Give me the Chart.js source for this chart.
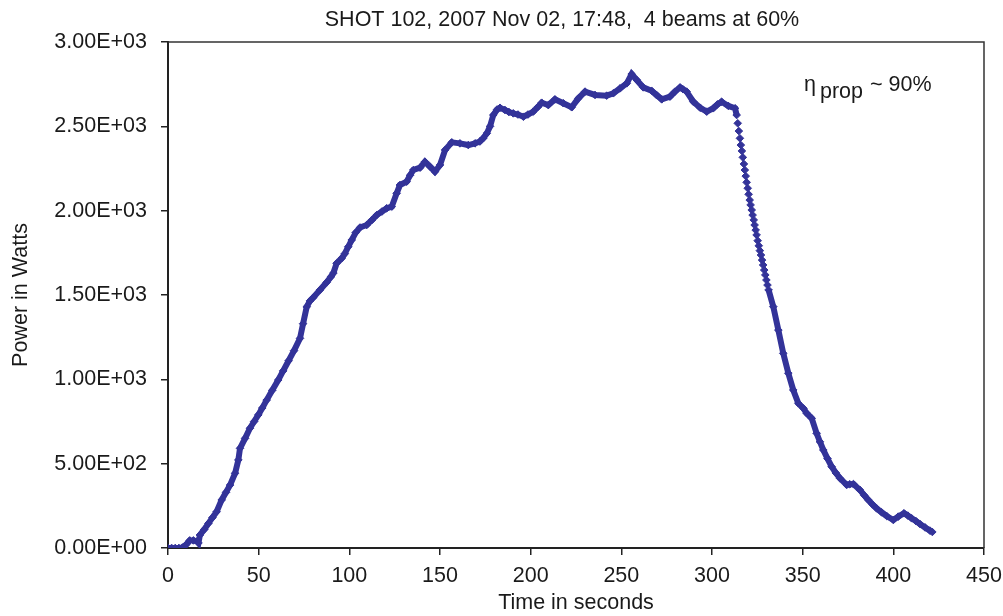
<!DOCTYPE html>
<html>
<head>
<meta charset="utf-8">
<script src="https://cdn.jsdelivr.net/npm/chart.js@4/dist/chart.umd.min.js"></script>
<style>
  html, body { margin: 0; padding: 0; background: #ffffff; }
  canvas { display: block; }
</style>
</head>
<body>
<canvas id="chart" width="1003" height="616"></canvas>
<script>
/* Shot 102 power trace */

// Time in seconds (denser where the trace falls off quickly)
const times = [
  0, 2, 4, 6, 8, 10, 12, 14, 16, 16.8, 17.6, 20, 22.3, 24.5, 26.8, 29.6, 32, 34.2, 37, 38.8,
  39.7, 42.5, 45.2, 47.5, 49.8, 52, 54.4, 57.5, 60.8, 63.5, 66.5, 69.5, 72.8, 74.5, 76.5, 78.3,
  80.1, 83.8, 87.5, 90, 91.2, 93, 95.8, 97.5, 99.4, 101.3, 103.5, 105.9, 109.6, 112.5, 115.1,
  118, 120.6, 123.4, 126.1, 127.9, 131.6, 133.5, 135.3, 139, 141.7, 144.5, 147.2, 150, 152.8,
  156.5, 161, 165.6, 169.3, 172, 173.9, 175.8, 177.6, 179.4, 181.5, 183.1, 185.8, 188, 190.4,
  193, 196, 198.5, 201.4, 204, 206.1, 209.7, 213.4, 218, 222.6, 226.3, 230, 235.5, 241.9,
  245.6, 249.3, 253, 255.7, 258.5, 262.1, 266.7, 269.5, 272.3, 276.8, 279.5, 282.4, 284, 286,
  289.7, 293.5, 297.1, 300.7, 303, 305.3, 309, 312.7,
  313.6, 314.2, 314.8, 315.4, 315.9, 316.5, 317.0, 317.6, 318.1, 318.6, 319.1, 319.7, 320.2,
  320.8, 321.3, 321.9, 322.4, 323.0, 323.5, 324.1, 324.6, 325.2, 325.8, 326.4, 327.0, 327.6,
  328.2, 328.8, 329.4, 330.0, 330.6, 331.2,
  333.8, 336.6, 339.3, 342.1, 344.8, 347.6, 350.4, 352.2, 355, 357.7, 359.5, 361.4, 363.7, 366,
  368.3, 370.6, 374.3, 376, 378, 381.6, 384, 386.2, 388.5, 390.8, 393.5, 396.3, 400, 402.7,
  405.9, 408, 410.1, 412.4, 414.7, 417.5, 420.2, 421.5
];

// Power in Watts
const power = [
  0, 0, 0, 0, 3, 20, 45, 45, 40, 30, 77, 110, 146, 180, 215, 285, 330, 373, 443, 522,
  591, 650, 710, 750, 789, 830, 877, 935, 996, 1050, 1110, 1170, 1243, 1330, 1430, 1465,
  1485, 1530, 1575, 1610, 1630, 1688, 1718, 1745, 1786, 1826, 1870, 1900, 1915, 1945, 1974,
  1995, 2014, 2024, 2103, 2152, 2172, 2210, 2241, 2255, 2290, 2261, 2231, 2271, 2360,
  2405, 2399, 2389, 2399, 2410, 2430, 2458, 2500, 2567, 2600, 2610, 2597, 2585, 2577,
  2570, 2557, 2570, 2587, 2615, 2640, 2626, 2660, 2637, 2613, 2666, 2706, 2686, 2682,
  2696, 2725, 2755, 2810, 2775, 2731, 2711, 2685, 2660, 2676, 2705, 2731, 2720, 2706,
  2646, 2610, 2587, 2607, 2630, 2646, 2621, 2607,
  2567, 2518, 2472, 2429, 2389, 2354, 2316, 2277, 2241, 2205, 2168, 2133, 2097,
  2063, 2034, 2004, 1974, 1945, 1915, 1885, 1856, 1822, 1792, 1763, 1737, 1707,
  1678, 1648, 1619, 1589, 1559, 1530,
  1431, 1292, 1154, 1036, 937, 858, 828, 799, 769, 680, 630, 581, 530, 482,
  445, 413, 374, 378, 379, 344, 312, 285, 258, 235, 212, 190, 166, 186,
  206, 192, 176, 160, 142, 122, 103, 95
];

// Axis ticks
const xTicks = [0, 50, 100, 150, 200, 250, 300, 350, 400, 450];
const yTicks = [0, 500, 1000, 1500, 2000, 2500, 3000];

const titleText = "SHOT 102, 2007 Nov 02, 17:48,  4 beams at 60%";
const LINE = "#333399";
const INK = "#1a1a1a";
const FONT = '"Liberation Sans", Arial, sans-serif';
const FS = 21.5;

// 3.00E+03 style labels
function sciLabel(v) {
  if (v === 0) return "0.00E+00";
  const exp = Math.floor(Math.log10(Math.abs(v)));
  const mant = (v / Math.pow(10, exp)).toFixed(2);
  const sign = exp < 0 ? "-" : "+";
  return `${mant}E${sign}${String(Math.abs(exp)).padStart(2, "0")}`;
}

// top/right frame, title and the eta annotation
const decorPlugin = {
  id: "decor",
  afterDraw(chart) {
    const { ctx, chartArea: { top, right, left, bottom } } = chart;
    ctx.save();
    ctx.strokeStyle = "#333";
    ctx.lineWidth = 1.5;
    ctx.beginPath();
    ctx.moveTo(left, top);
    ctx.lineTo(right, top);
    ctx.lineTo(right, bottom);
    ctx.stroke();

    ctx.fillStyle = INK;
    ctx.font = `${FS}px ${FONT}`;
    ctx.textAlign = "center";
    ctx.textBaseline = "middle";
    ctx.fillText(titleText, 562, 20);

    ctx.textAlign = "left";
    ctx.textBaseline = "alphabetic";
    ctx.fillText("\u03b7", 804, 91);
    ctx.fillText("prop", 820, 98);
    ctx.fillText("~ 90%", 870, 91);
    ctx.restore();
  },
};

const points = times.map((t, i) => ({ x: t, y: power[i] }));

new Chart(document.getElementById("chart").getContext("2d"), {
  type: "scatter",
  data: {
    datasets: [
      {
        data: points,
        showLine: true,
        borderColor: LINE,
        backgroundColor: LINE,
        borderWidth: 6,
        pointStyle: "rectRot",
        pointRadius: 3.8,
        pointBorderWidth: 1,
        pointBorderColor: LINE,
        pointBackgroundColor: LINE,
        tension: 0,
        // where samples are close together only the markers show
        segment: {
          borderColor: (c) => (c.p1.parsed.x - c.p0.parsed.x < 0.75 ? "rgba(0,0,0,0)" : LINE),
        },
      },
    ],
  },
  options: {
    responsive: false,
    animation: false,
    layout: { padding: { top: 42, right: 19, left: 0, bottom: 0 } },
    plugins: {
      legend: { display: false },
      tooltip: { enabled: false },
      title: { display: false },
    },
    scales: {
      x: {
        type: "linear",
        min: 0,
        max: 450,
        afterFit(s) {
          s.height = 68;
          s.paddingLeft = 0;
          s.paddingRight = 0;
        },
        afterBuildTicks(s) { s.ticks = xTicks.map((v) => ({ value: v })); },
        ticks: { color: INK, font: { family: FONT, size: FS }, padding: 8, maxRotation: 0 },
        grid: { drawOnChartArea: false, drawTicks: true, tickLength: 7, color: "#222", lineWidth: 1.5 },
        border: { display: true, color: "#222", width: 2 },
        title: {
          display: true,
          text: "Time in seconds",
          color: INK,
          font: { family: FONT, size: FS },
          padding: { top: 0, bottom: 0 },
        },
      },
      y: {
        min: 0,
        max: 3000,
        afterFit(s) {
          s.width = 168;
          s.paddingTop = 0;
          s.paddingBottom = 0;
        },
        afterBuildTicks(s) { s.ticks = yTicks.map((v) => ({ value: v })); },
        ticks: { color: INK, font: { family: FONT, size: FS }, padding: 14, callback: sciLabel },
        grid: { drawOnChartArea: false, drawTicks: true, tickLength: 7, color: "#222", lineWidth: 1.5 },
        border: { display: true, color: "#222", width: 2 },
        title: {
          display: true,
          text: "Power in Watts",
          color: INK,
          font: { family: FONT, size: FS },
          padding: { top: 8, bottom: 0 },
        },
      },
    },
  },
  plugins: [decorPlugin],
});
</script>
</body>
</html>
